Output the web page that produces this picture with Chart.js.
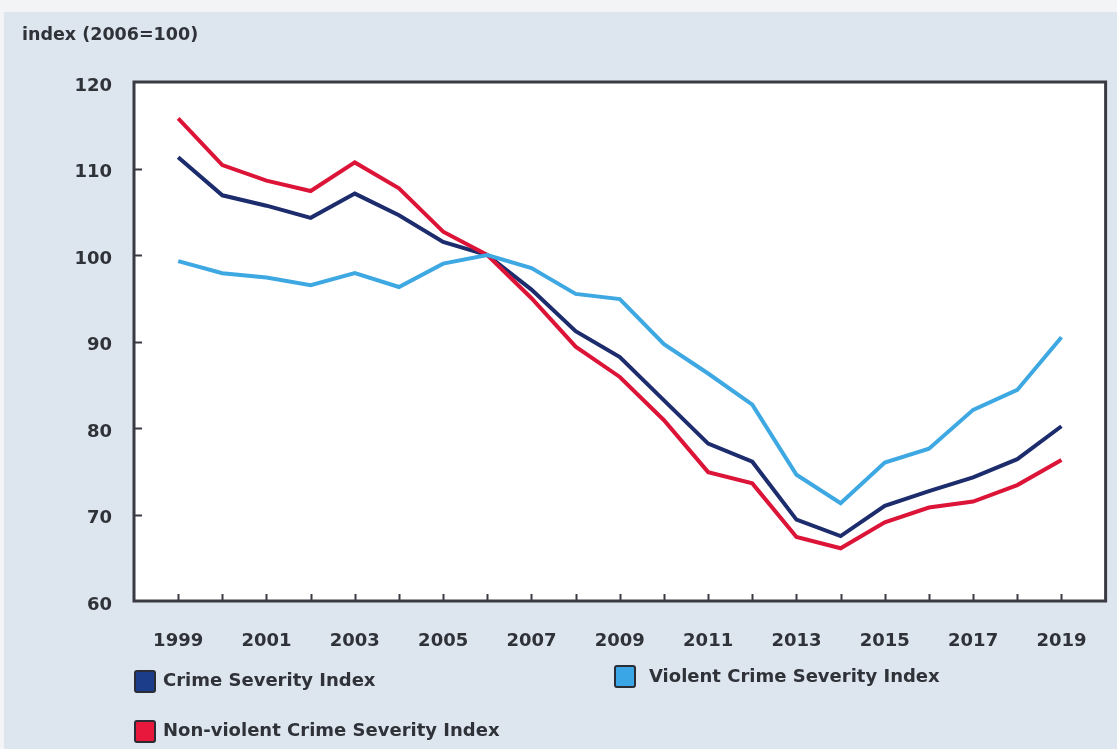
<!DOCTYPE html>
<html>
<head>
<meta charset="utf-8">
<script src="https://cdn.jsdelivr.net/npm/chart.js@4.4.1/dist/chart.umd.min.js"></script>
<style>
  html, body { margin: 0; padding: 0; background: #f3f4f6; }
  #wrap { position: relative; width: 1117px; height: 749px; overflow: hidden; }
  #panel { position: absolute; left: 4px; top: 12px; width: 1113px; height: 737px; background: #dde5ee; }
  canvas { position: absolute; left: 0; top: 0; }
  .txt { position: absolute; font-family: "DejaVu Sans", Verdana, sans-serif; font-weight: bold; color: #2f3238; white-space: nowrap; }
  .box { position: absolute; width: 18px; height: 19px; border: 2px solid #2a2d36; border-radius: 3px; }
</style>
</head>
<body>
<div id="wrap">
  <div id="panel"></div>
  <canvas id="c" width="1117" height="749"></canvas>
  <div class="txt" id="ytitle" style="left:22px; top:24px; font-size:17.5px;">index (2006=100)</div>
  <div class="box" style="left:134px; top:670px; background:#1b3d8a;"></div>
  <div class="txt" style="left:163px; top:669px; font-size:18px;">Crime Severity Index</div>
  <div class="box" style="left:614px; top:665px; background:#3aa6e6;"></div>
  <div class="txt" style="left:649px; top:665px; font-size:18px;">Violent Crime Severity Index</div>
  <div class="box" style="left:134px; top:720px; background:#e8183c;"></div>
  <div class="txt" style="left:163px; top:719px; font-size:18px;">Non-violent Crime Severity Index</div>
</div>
<script>
const years = [1999,2000,2001,2002,2003,2004,2005,2006,2007,2008,2009,2010,2011,2012,2013,2014,2015,2016,2017,2018,2019];
const crimeSeverity = [111.3,106.9,105.7,104.3,107.1,104.6,101.5,100.0,96.0,91.2,88.2,83.2,78.2,76.1,69.4,67.5,71.0,72.7,74.3,76.4,80.2];
const violentSeverity = [99.3,97.9,97.4,96.5,97.9,96.3,99.0,100.0,98.5,95.5,94.9,89.7,86.3,82.7,74.6,71.3,76.0,77.6,82.1,84.4,90.5];
const nonViolentSeverity = [115.8,110.4,108.6,107.4,110.7,107.7,102.7,100.0,95.0,89.4,85.9,80.9,74.9,73.6,67.4,66.1,69.1,70.8,71.5,73.4,76.3];
const yTicks = [60,70,80,90,100,110,120];
const yInnerTicks = [70,80,90,100,110];
const xLabelYears = [1999,2001,2003,2005,2007,2009,2011,2013,2015,2017,2019];

const pts = arr => years.map((y, i) => ({x: y, y: arr[i]}));

const frame = {
  id: 'frame',
  beforeDatasetsDraw(chart) {
    const {ctx, chartArea: a} = chart;
    ctx.save();
    ctx.fillStyle = '#ffffff';
    ctx.fillRect(a.left, a.top, a.right - a.left, a.bottom - a.top);
    ctx.restore();
  },
  afterDatasetsDraw(chart) {
    const {ctx, chartArea: a, scales} = chart;
    ctx.save();
    ctx.strokeStyle = '#3a3b42';
    ctx.lineWidth = 2;
    years.forEach(yr => {
      const px = Math.round(scales.x.getPixelForValue(yr)) + 0.5;
      ctx.beginPath(); ctx.moveTo(px, a.bottom); ctx.lineTo(px, a.bottom - 7); ctx.stroke();
    });
    yInnerTicks.forEach(v => {
      const py = Math.round(scales.y.getPixelForValue(v)) + 0.5;
      ctx.beginPath(); ctx.moveTo(a.left, py); ctx.lineTo(a.left + 8, py); ctx.stroke();
    });
    ctx.lineWidth = 3;
    ctx.strokeRect(a.left, a.top, a.right - a.left, a.bottom - a.top);
    ctx.restore();
  }
};

new Chart(document.getElementById('c'), {
  type: 'line',
  data: {
    datasets: [
      { label: 'Violent Crime Severity Index', data: pts(violentSeverity), borderColor: '#3ea8e2', borderWidth: 4, pointRadius: 0, tension: 0 },
      { label: 'Non-violent Crime Severity Index', data: pts(nonViolentSeverity), borderColor: '#dc1538', borderWidth: 4, pointRadius: 0, tension: 0 },
      { label: 'Crime Severity Index', data: pts(crimeSeverity), borderColor: '#1c2c6c', borderWidth: 4, pointRadius: 0, tension: 0 }
    ]
  },
  options: {
    responsive: false,
    animation: false,
    devicePixelRatio: 1,
    layout: { padding: { top: 82, right: 11, bottom: 0, left: 0 } },
    plugins: { legend: { display: false }, tooltip: { enabled: false } },
    scales: {
      x: {
        type: 'linear', min: 1998, max: 2020,
        grid: { display: false, drawTicks: false },
        border: { display: false },
        afterFit: s => { s.height = 148; },
        afterBuildTicks: s => { s.ticks = years.map(v => ({value: v})); },
        ticks: {
          autoSkip: false, maxRotation: 0, padding: 30,
          color: '#2f3238',
          font: { family: 'DejaVu Sans', weight: 'bold', size: 18 },
          callback: v => xLabelYears.includes(v) ? String(v) : ''
        }
      },
      y: {
        min: 60, max: 120,
        grid: { display: false, drawTicks: false },
        border: { display: false },
        afterFit: s => { s.width = 134; },
        afterBuildTicks: s => { s.ticks = yTicks.map(v => ({value: v})); },
        ticks: {
          padding: 22, labelOffset: 4,
          color: '#2f3238',
          font: { family: 'DejaVu Sans', weight: 'bold', size: 18 }
        }
      }
    }
  },
  plugins: [frame]
});
</script>
</body>
</html>
